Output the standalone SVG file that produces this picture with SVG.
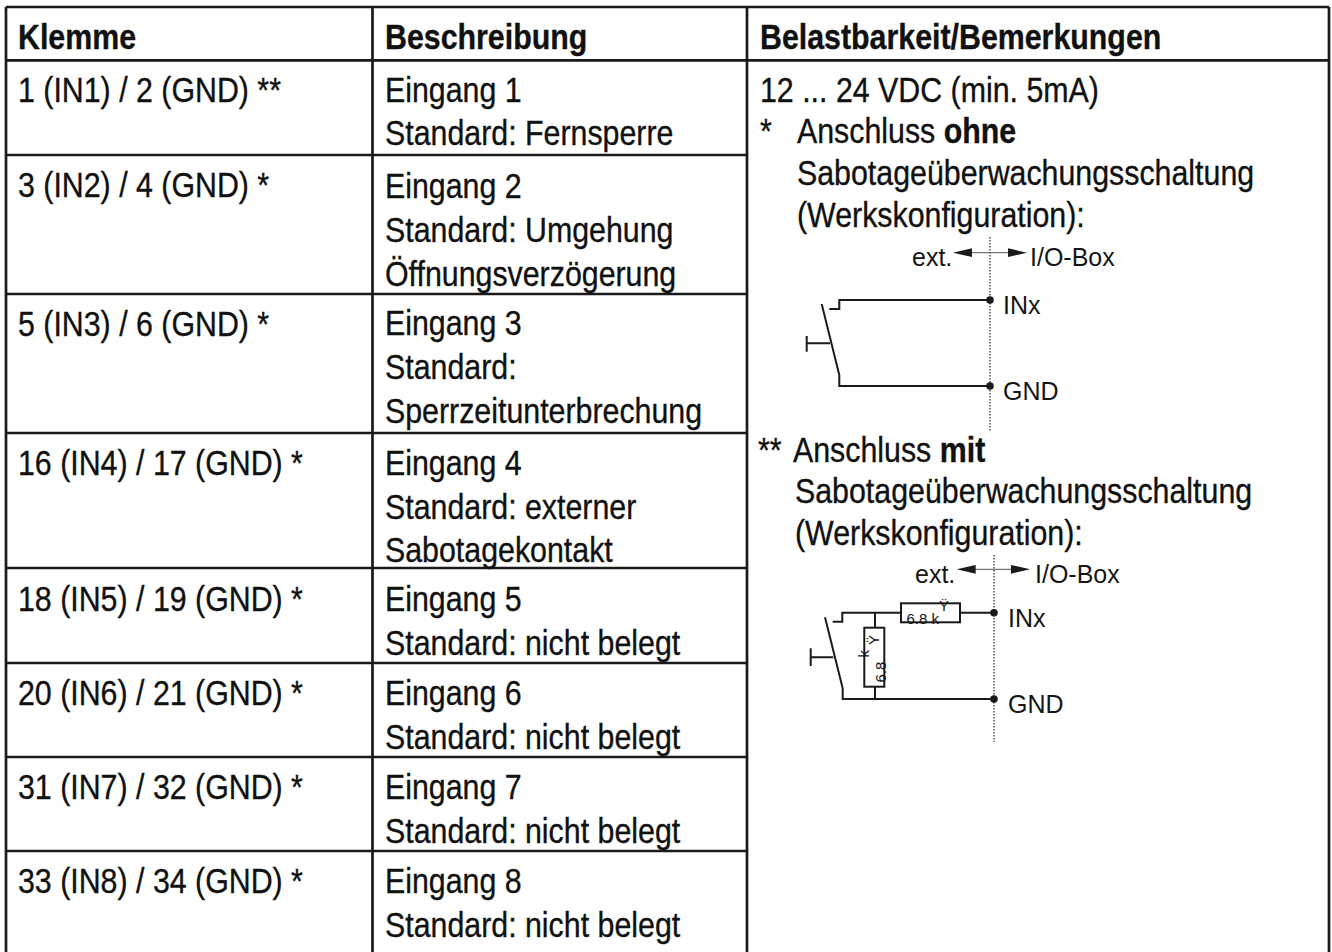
<svg xmlns="http://www.w3.org/2000/svg" width="1332" height="952" viewBox="0 0 1332 952">
<style>
  .t { font-family: "Liberation Sans", Arial, sans-serif; font-size: 35px; fill: #111; stroke: #111; stroke-width: 0.35; }
  .b { font-weight: bold; }
  .s { font-family: "Liberation Sans", Arial, sans-serif; font-size: 25px; fill: #151515; }
  .r { font-family: "Liberation Sans", Arial, sans-serif; font-size: 15px; fill: #151515; }
  .grid { stroke: #1a1a1a; stroke-width: 2.7; fill: none; }
  .wire { stroke: #1a1a1a; stroke-width: 2; fill: none; }
  .dot { fill: #1a1a1a; }
  .sep { stroke: #333; stroke-width: 1.3; stroke-dasharray: 1.5 1.5; fill: none; }
  .arr { stroke: #555; stroke-width: 1; fill: none; }
  .head { fill: #1a1a1a; }
  .res { stroke: #1a1a1a; stroke-width: 2; fill: #fff; }
</style>
<rect width="1332" height="952" fill="#fff"/>

<g id="table-grid" class="grid">
  <path d="M6,7 H1329 M6,7 V952 M372.5,7 V952 M747,7 V952 M1329,7 V952 M6,60.3 H1329"/>
  <path d="M6,155 H747 M6,294 H747 M6,433 H747 M6,568 H747 M6,663 H747 M6,757 H747 M6,851 H747"/>
</g>

<g id="header">
  <text class="t b" transform="translate(18,49) scale(0.867,1)">Klemme</text>
  <text class="t b" transform="translate(385,49) scale(0.867,1)">Beschreibung</text>
  <text class="t b" transform="translate(760,49) scale(0.867,1)">Belastbarkeit/Bemerkungen</text>
</g>

<g id="col-klemme">
  <text class="t" transform="translate(18,102) scale(0.867,1)">1 (IN1) / 2 (GND) **</text>
  <text class="t" transform="translate(18,197) scale(0.867,1)">3 (IN2) / 4 (GND) *</text>
  <text class="t" transform="translate(18,336) scale(0.867,1)">5 (IN3) / 6 (GND) *</text>
  <text class="t" transform="translate(18,475) scale(0.867,1)">16 (IN4) / 17 (GND) *</text>
  <text class="t" transform="translate(18,611) scale(0.867,1)">18 (IN5) / 19 (GND) *</text>
  <text class="t" transform="translate(18,705) scale(0.867,1)">20 (IN6) / 21 (GND) *</text>
  <text class="t" transform="translate(18,799) scale(0.867,1)">31 (IN7) / 32 (GND) *</text>
  <text class="t" transform="translate(18,893) scale(0.867,1)">33 (IN8) / 34 (GND) *</text>
</g>

<g id="col-beschreibung">
  <text class="t" transform="translate(385,102) scale(0.867,1)">Eingang 1</text>
  <text class="t" transform="translate(385,145) scale(0.867,1)">Standard: Fernsperre</text>
  <text class="t" transform="translate(385,198) scale(0.867,1)">Eingang 2</text>
  <text class="t" transform="translate(385,241.5) scale(0.867,1)">Standard: Umgehung</text>
  <text class="t" transform="translate(385,285.5) scale(0.867,1)">Öffnungsverzögerung</text>
  <text class="t" transform="translate(385,335) scale(0.867,1)">Eingang 3</text>
  <text class="t" transform="translate(385,379) scale(0.867,1)">Standard:</text>
  <text class="t" transform="translate(385,423) scale(0.867,1)">Sperrzeitunterbrechung</text>
  <text class="t" transform="translate(385,475) scale(0.867,1)">Eingang 4</text>
  <text class="t" transform="translate(385,518.5) scale(0.867,1)">Standard: externer</text>
  <text class="t" transform="translate(385,562) scale(0.867,1)">Sabotagekontakt</text>
  <text class="t" transform="translate(385,611) scale(0.867,1)">Eingang 5</text>
  <text class="t" transform="translate(385,654.5) scale(0.867,1)">Standard: nicht belegt</text>
  <text class="t" transform="translate(385,705) scale(0.867,1)">Eingang 6</text>
  <text class="t" transform="translate(385,748.5) scale(0.867,1)">Standard: nicht belegt</text>
  <text class="t" transform="translate(385,799) scale(0.867,1)">Eingang 7</text>
  <text class="t" transform="translate(385,842.5) scale(0.867,1)">Standard: nicht belegt</text>
  <text class="t" transform="translate(385,893) scale(0.867,1)">Eingang 8</text>
  <text class="t" transform="translate(385,936.5) scale(0.867,1)">Standard: nicht belegt</text>
</g>

<g id="col-bemerkungen">
  <text class="t" transform="translate(760,101.7) scale(0.867,1)">12 ... 24 VDC (min. 5mA)</text>
  <text class="t" transform="translate(760,143.3) scale(0.867,1)">*</text>
  <text class="t" transform="translate(797,143.3) scale(0.867,1)">Anschluss <tspan class="b">ohne</tspan></text>
  <text class="t" transform="translate(797,185) scale(0.867,1)">Sabotageüberwachungsschaltung</text>
  <text class="t" transform="translate(797,226.7) scale(0.867,1)">(Werkskonfiguration):</text>
  <text class="t" transform="translate(758,461.7) scale(0.867,1)">**</text>
  <text class="t" transform="translate(793,461.7) scale(0.867,1)">Anschluss <tspan class="b">mit</tspan></text>
  <text class="t" transform="translate(795,503.3) scale(0.867,1)">Sabotageüberwachungsschaltung</text>
  <text class="t" transform="translate(795,545) scale(0.867,1)">(Werkskonfiguration):</text>
</g>

<g id="circuit-ohne">
  <path class="sep" d="M990,237 V432"/>
  <path class="arr" d="M968,252.7 H1012"/>
  <polygon class="head" points="953,252.7 972,248.3 972,257.1"/>
  <polygon class="head" points="1027,252.7 1008,248.3 1008,257.1"/>
  <text class="s" x="912" y="266">ext.</text>
  <text class="s" x="1030" y="266">I/O-Box</text>
  <g id="wires-ohne">
    <path class="wire" d="M829.3,309 H839.3 V300 H990"/>
    <path class="wire" d="M821.7,304 L839.3,375 V386 H990"/>
    <path class="wire" d="M806.7,343.3 H830 M806.7,336 V351.7"/>
  </g>
  <circle class="dot" cx="990" cy="300" r="3.8"/>
  <circle class="dot" cx="990" cy="386" r="3.8"/>
  <text class="s" x="1003" y="314">INx</text>
  <text class="s" x="1003" y="400">GND</text>
</g>

<g id="circuit-mit">
  <path class="sep" d="M994,555 V742"/>
  <path class="arr" d="M972,569.3 H1015"/>
  <polygon class="head" points="956.7,569.3 975.7,564.9 975.7,573.7"/>
  <polygon class="head" points="1030,569.3 1011,564.9 1011,573.7"/>
  <text class="s" x="915" y="582.7">ext.</text>
  <text class="s" x="1035" y="582.7">I/O-Box</text>
  <g id="wires-mit">
    <path class="wire" d="M832.7,621.7 H842.3 V612.7 H901 M960,612.7 H994"/>
    <path class="wire" d="M875,612.7 V627.7 M875,686.7 V699"/>
    <path class="wire" d="M825,617.3 L842.7,688.3 V699 H994"/>
    <path class="wire" d="M810.7,657.3 H833.3 M810.7,648.3 V666"/>
  </g>
  <g id="resistor-h">
    <rect class="res" x="901" y="603.3" width="59" height="19"/>
    <text class="r" x="906.5" y="623.5">6.8 k<tspan dy="-12.5">Ÿ</tspan></text>
  </g>
  <g id="resistor-v">
    <rect class="res" x="864.3" y="627.7" width="20" height="59"/>
    <text class="r" transform="translate(886,682.5) rotate(-90)">6.8 <tspan dy="-17.5">k</tspan><tspan dx="5" dy="10">Ÿ</tspan></text>
  </g>
  <circle class="dot" cx="994" cy="612.7" r="3.8"/>
  <circle class="dot" cx="994" cy="699" r="3.8"/>
  <text class="s" x="1008" y="627.3">INx</text>
  <text class="s" x="1008" y="713.3">GND</text>
</g>
</svg>
